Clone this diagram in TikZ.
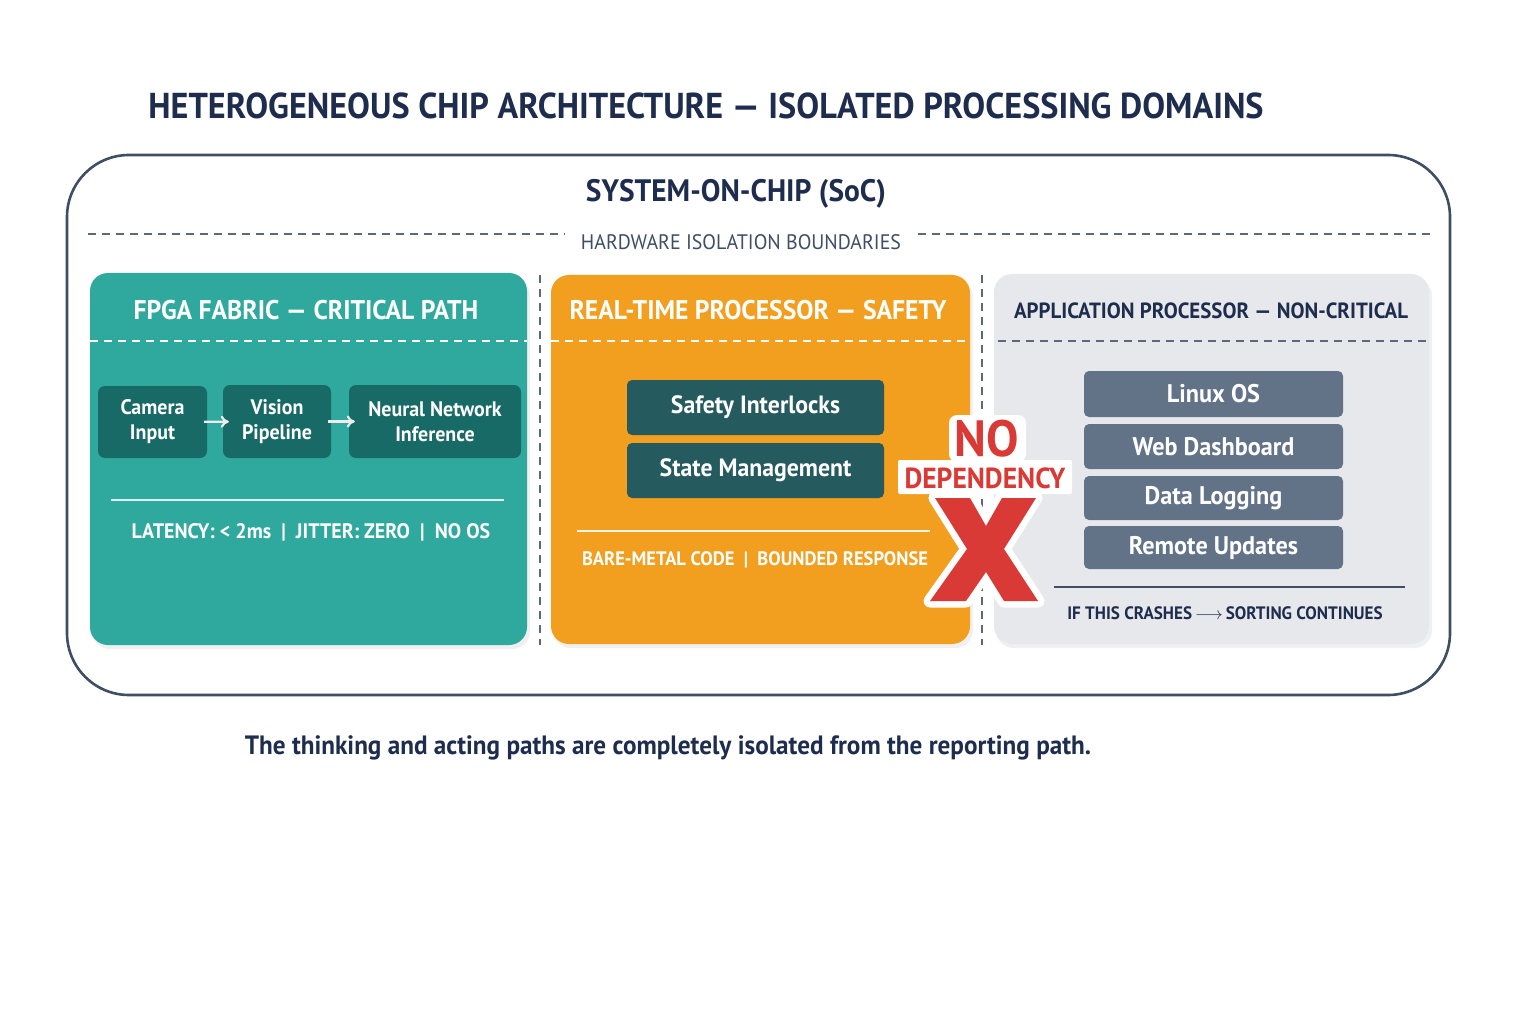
\documentclass[tikz,border=0pt]{standalone}
\usepackage{fontspec}
\setmainfont{PT Sans}[FakeStretch=0.95]
\usetikzlibrary{arrows.meta}
\definecolor{navy}{HTML}{1E2D4D}
\definecolor{slateline}{HTML}{3F4E63}
\definecolor{dashc}{HTML}{5A697E}
\definecolor{tealp}{HTML}{2FA99D}
\definecolor{tealbox}{HTML}{176A65}
\definecolor{orangep}{HTML}{F29E1F}
\definecolor{safebox}{HTML}{255A5F}
\definecolor{grayp}{HTML}{E7E8EC}
\definecolor{slatebox}{HTML}{627388}
\definecolor{redx}{HTML}{D93A35}
\newcommand{\fsz}[2]{\fontsize{#1}{#2}\selectfont}
\tikzset{
  panel/.style={draw=none, rounded corners=18pt},
  hdr/.style={font=\fsz{27}{30}\bfseries, text=white},
  sep/.style={dashed, dash pattern=on 8pt off 6pt, line width=1.6pt},
  fbox/.style={fill=tealbox, rounded corners=7pt, text=white, font=\fsz{21}{25}\bfseries, align=center, inner sep=0pt},
  sbox/.style={fill=safebox, rounded corners=5pt, text=white, font=\fsz{25}{28}\bfseries, minimum width=257pt, minimum height=55pt, inner sep=0pt, text height=14pt, text depth=2pt},
  abox/.style={fill=slatebox, rounded corners=5pt, text=white, font=\fsz{25.5}{28}\bfseries, minimum width=259pt, minimum height=45pt, inner sep=0pt},
  note/.style={font=\fsz{20}{24}\bfseries},
  farrow/.style={-{To[length=8pt,width=12pt]}, draw=white!85!gray, line width=2.2pt, shorten <=-3pt, shorten >=-6pt},
  shadowp/.style={black!6, rounded corners=18pt},
}
\begin{document}
\begin{tikzpicture}[x=1pt,y=-1pt]
\useasboundingbox (0,0) rectangle (1536,1024);
\fill[white] (0,0) rectangle (1536,1024);

% title
\node[font=\fsz{36}{40}\bfseries, text=navy] (title) at (706,106) {HETEROGENEOUS CHIP ARCHITECTURE — ISOLATED PROCESSING DOMAINS};

% SoC outer
\draw[slateline, line width=2.6pt, rounded corners=62pt] (67,155) rectangle (1450,695);
\node[font=\fsz{31}{34}\bfseries, text=navy] (soc) at (736,194) {SYSTEM-ON-CHIP (SoC)};
\node[font=\fsz{21}{24}, text=slateline] (hib) at (741,242) {HARDWARE ISOLATION BOUNDARIES};
\coordinate (hl1) at (88,234); \coordinate (hl2) at (565,234);
\coordinate (hr1) at (918,234); \coordinate (hr2) at (1430,234);
\draw[sep, dashc] (hl1) -- (hl2);
\draw[sep, dashc] (hr1) -- (hr2);

% vertical isolation boundaries
\coordinate (v1a) at (540,275); \coordinate (v1b) at (540,645);
\coordinate (v2a) at (982,275); \coordinate (v2b) at (982,645);
\draw[dashc, line width=1.6pt, dash pattern=on 8pt off 6pt] (v1a) -- (v1b);
\draw[dashc, line width=1.6pt, dash pattern=on 8pt off 6pt] (v2a) -- (v2b);

% ---- FPGA panel
\fill[shadowp] (92,277) rectangle (530,649);
\fill[tealp, panel] (90,273) rectangle (527,645);
\node[hdr] (fh) at (306,310) {FPGA FABRIC — CRITICAL PATH};
\draw[sep, white] (90,341) -- (527,341);
\node[fbox, minimum width=109pt, minimum height=72pt] (cam) at (152.5,422) {Camera\\Input};
\node[fbox, minimum width=108pt, minimum height=73pt] (vis) at (277,421.5) {Vision\\Pipeline};
\node[fbox, minimum width=172pt, minimum height=73pt] (nn) at (435,421.5) {Neural Network\\Inference};
\draw[farrow] (cam) -- (vis);
\draw[farrow] (vis) -- (nn);
\draw[white!85!tealp, line width=2.4pt] (111,500) -- (504,500);
\node[note, text=white, font=\fsz{21}{24}\bfseries] (lat) at (311,532) {LATENCY: < 2ms \ | \ JITTER: ZERO \ | \ NO OS};

% ---- Real-time panel
\fill[shadowp] (553,279) rectangle (973,648);
\fill[orangep, panel] (551,275) rectangle (970,644);
\node[hdr] (rh) at (758,310) {REAL-TIME PROCESSOR — SAFETY};
\draw[sep, white] (551,341) -- (970,341);
\node[sbox] (si) at (755.5,407.5) {Safety Interlocks};
\node[sbox] (sm) at (755.5,470.5) {State Management};
\draw[white!90!orangep, line width=2.4pt] (577,531) -- (930,531);
\node[note, text=white, font=\fsz{19.5}{23}\bfseries] (bm) at (755,560) {BARE-METAL CODE \ | \ BOUNDED RESPONSE};

% ---- Application panel
\fill[shadowp] (996,278) rectangle (1432,648);
\fill[grayp, panel] (994,274) rectangle (1429,644);
\node[hdr, text=navy, font=\fsz{22}{26}\bfseries] (ah) at (1211,311) {APPLICATION PROCESSOR — NON-CRITICAL};
\draw[sep, dashc] (998,341) -- (1429,341);
\node[abox, minimum height=46pt] (lx) at (1213.5,394) {Linux OS};
\node[abox] (wd) at (1213.5,446.5) {Web Dashboard};
\node[abox, minimum height=44pt] (dl) at (1213.5,498) {Data Logging};
\node[abox, minimum height=43pt] (ru) at (1213.5,547.5) {Remote Updates};
\draw[slateline, line width=2pt] (1054,587) -- (1405,587);
\node[note, text=navy, font=\fsz{18}{22}\bfseries] (ifc) at (1225,613) {IF THIS CRASHES\,$\longrightarrow$\,SORTING CONTINUES};

% ---- NO DEPENDENCY X
\path[draw=white, fill=redx, line width=13pt, line join=round]
  (935,498) -- (970,498) -- (986,526) -- (1002,498) -- (1036,498) -- (1004,549)
  -- (1038,601) -- (1004,601) -- (986,572) -- (966,601) -- (930,601) -- (967,549) -- cycle;
\fill[redx] (935,498) -- (970,498) -- (986,526) -- (1002,498) -- (1036,498) -- (1004,549)
  -- (1038,601) -- (1004,601) -- (986,572) -- (966,601) -- (930,601) -- (967,549) -- cycle;
\fill[white, rounded corners=2pt] (898,460) rectangle (1072,494);
\fill[white, rounded corners=8pt] (949,415) rectangle (1026,462);
\node[font=\fsz{51}{54}\bfseries, text=redx] (no) at (987,439) {NO};
\node[font=\fsz{29}{32}\bfseries, text=redx] (dep) at (985,478) {DEPENDENCY};

% bottom caption
\node[font=\fsz{26.5}{30}\bfseries, text=navy] (cap) at (668,748) {The thinking and acting paths are completely isolated from the reporting path.};
\end{tikzpicture}
\end{document}
